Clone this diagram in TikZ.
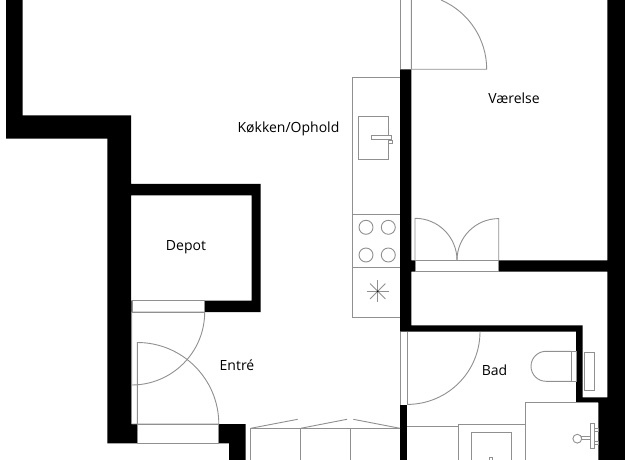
\documentclass[tikz,border=0pt]{standalone}
\usepackage{fontspec}
\setmainfont{Open Sans}
\tikzset{
  wall/.style={fill=black,draw=none},
  thin line/.style={draw=linegray,line width=0.9pt,fill=none},
  fixture/.style={draw=linegray,line width=0.9pt,fill=white},
  room label/.style={inner sep=0pt,text=black,font=\fontsize{14}{16}\selectfont}
}
\definecolor{linegray}{HTML}{909090}
\begin{document}
\begin{tikzpicture}[x=1pt,y=-1pt]
\useasboundingbox (0,0) rectangle (625,460);
\fill[white] (0,0) rectangle (625,460);
% walls
\path[wall] (6,0) -- (22.7,0) -- (22.7,115.5) -- (131,115.5) -- (131,184) -- (260.7,184) -- (260.7,312) -- (204.7,312) -- (204.7,300.7) -- (251.7,300.7) -- (251.7,195.5) -- (131,195.5) -- (131,300.7) -- (131.7,300.7) -- (131.7,424) -- (137.3,424) -- (137.3,443.3) -- (107.3,443.3) -- (107.3,138.7) -- (6,138.7) -- cycle;
\path[wall] (218.7,424) -- (245.7,424) -- (245.7,460) -- (229,460) -- (229,443.3) -- (218.7,443.3) -- cycle;
\path[wall] (400,69.3) -- (411.3,69.3) -- (411.3,260.3) -- (414.8,260.3) -- (414.8,271.7) -- (411.3,271.7) -- (411.3,325.3) -- (582.7,325.3) -- (582.7,397.3) -- (607.3,397.3) -- (607.3,271.7) -- (498.7,271.7) -- (498.7,260.3) -- (607.3,260.3) -- (607.3,0) -- (625,0) -- (625,460) -- (598.3,460) -- (598.3,402.7) -- (576,402.7) -- (576,331.7) -- (400,331.7) -- cycle;
\path[wall] (400,404.5) -- (407.3,404.5) -- (407.3,460) -- (400,460) -- cycle;
% thresholds
\draw[thin line] (132.7,300.7) rectangle (204.7,312);
\draw[thin line] (137.3,424) rectangle (218.7,443.3);
\draw[thin line] (415,260.3) rectangle (498.7,271.7);
\draw[thin line] (400,0) -- (400,69.3);
\draw[thin line] (400,331.7) -- (400,404.5);
\draw[thin line] (407.3,331.7) -- (407.3,404.5);
% doors
\draw[thin line] (131.7,312) -- (131.7,424);
\draw[thin line] (131.7,385) -- (131.7,312) -- (204.7,312) arc[start angle=0,end angle=90,radius=73];
\draw[thin line] (131.7,424) -- (218.8,424) arc[start angle=0,end angle=-90,radius=81.5] -- (137.3,424);
\draw[thin line] (411.3,0) -- (411.3,69.3) -- (486.7,69.3) arc[start angle=0,end angle=-66.8,radius=75.4];
\draw[thin line] (415,260.3) -- (415,218.3) arc[start angle=-90,end angle=0,radius=42];
\draw[thin line] (498.7,260.3) -- (498.7,218.6) arc[start angle=270,end angle=180,radius=41.7];
\draw[thin line] (480,331.7) arc[start angle=0,end angle=90,radius=72.7];
% kitchen
\draw[thin line] (400,77.7) -- (352,77.7) -- (352,317.7) -- (400,317.7);
\draw[thin line] (352,214) -- (400,214);
\draw[thin line] (352,267.3) -- (400,267.3);
\draw[thin line] (358,116.3) rectangle (388.7,159.3);
\draw[fixture] (371.3,135.3) rectangle (391.7,139);
\draw[fixture] (388.7,140) rectangle (392.7,143.3);
\draw[thin line] (366,227.3) circle[radius=7];
\draw[thin line] (388.3,227.3) circle[radius=7];
\draw[thin line] (366,255) circle[radius=7];
\draw[thin line] (388.3,255) circle[radius=7];
\draw[thin line] (366.7,291.3) -- (388.7,291.3);
\draw[thin line] (377.7,280.3) -- (377.7,302.3);
\draw[thin line] (370,283.6) -- (385.4,299);
\draw[thin line] (370,299) -- (385.4,283.6);
\fill[black] (377.7,291.3) circle[radius=0.9];
% wardrobes
\draw[thin line] (250.7,460) -- (250.7,428.3) -- (400,428.3);
\draw[thin line] (300.7,428.3) -- (300.7,460);
\draw[thin line] (350.3,428.3) -- (350.3,460);
\draw[thin line] (250.7,428.3) -- (297.7,419.3);
\draw[thin line] (300.7,428.3) -- (347,419.3);
\draw[thin line] (400,428.3) -- (353.3,419.3);
% bathroom
\draw[thin line] (571,351.3) rectangle (576,381.3);
\draw[thin line] (571,351.3) -- (546,351.3) arc[start angle=-90,end angle=-270,radius=15] -- (571,381.3);
\draw[thin line] (584,352.3) rectangle (594.3,390.7);
\draw[thin line] (407.3,426.3) -- (458.5,426.3);
\draw[thin line] (458.5,460) -- (458.5,424.3) -- (525,424.3);
\draw[thin line] (525,460) -- (525,402.5) -- (598.3,402.5);
\draw[thin line] (471.3,460) -- (471.3,432) -- (511.7,432) -- (511.7,460);
\draw[thin line] (489.7,460) -- (489.7,457.3) -- (492.9,457.3) -- (492.9,460);
\draw[fixture] (581.5,436.6) rectangle (590,439.6);
\draw[fixture] (577.3,438.7) circle[radius=4.4];
\draw[fixture] (590,423) rectangle (594.7,448.3);
\draw[fixture] (594.7,428.3) rectangle (598.3,431.7);
\draw[fixture] (594.7,441.3) rectangle (598.3,444.3);
% labels
\node[room label] (kitchen) at (288.5,129) {Køkken/Ophold};
\node[room label] (room) at (514,98.5) {Værelse};
\node[room label] (depot) at (186,247) {Depot};
\node[room label] (entry) at (237,365) {Entré};
\node[room label] (bath) at (494.5,370) {Bad};
\end{tikzpicture}
\end{document}
